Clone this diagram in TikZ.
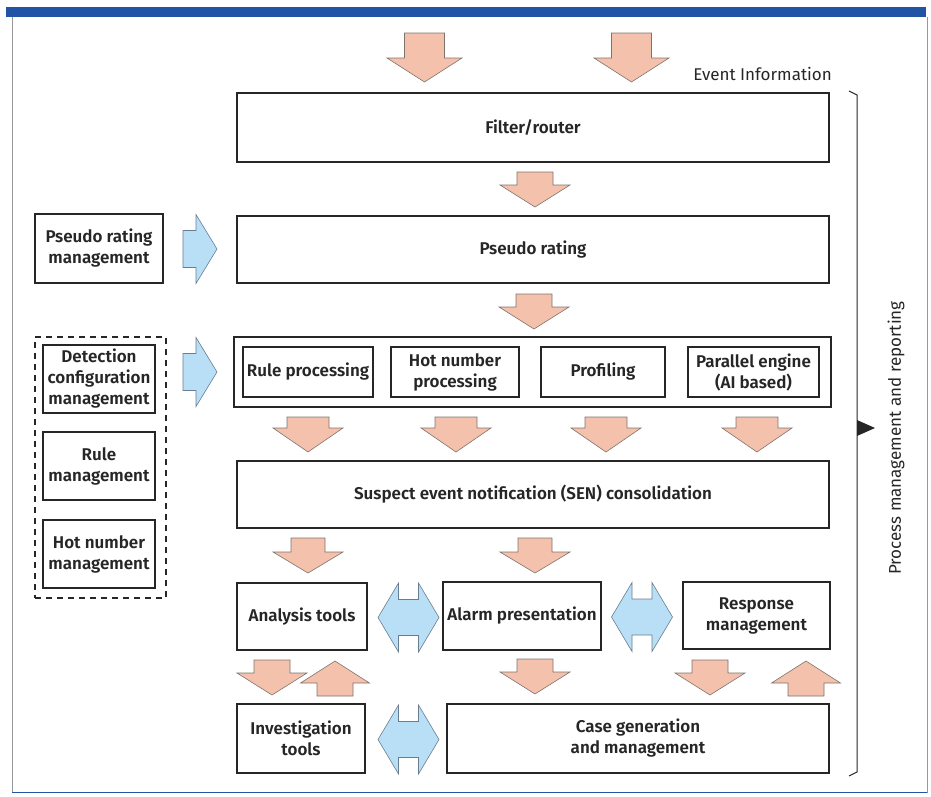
\documentclass[tikz,border=0pt]{standalone}
\usepackage{fontspec}
\setmainfont{Fira Sans}[BoldFont={Fira Sans SemiBold}]
\begin{document}
\begin{tikzpicture}[x=1pt,y=-1pt]
\definecolor{salmonfill}{RGB}{244,193,172}
\definecolor{salmonline}{RGB}{125,115,110}
\definecolor{bluefill}{RGB}{185,223,246}
\definecolor{blueline}{RGB}{105,125,145}
\definecolor{barblue}{RGB}{34,84,166}
\definecolor{framegray}{RGB}{150,150,155}
\tikzset{
  box/.style={draw=black!85, line width=1.3pt, fill=white, align=center, inner sep=0pt,
    font=\fontsize{17}{21}\selectfont\bfseries, text=black!85},
  salmonarrow/.style={fill=salmonfill, draw=salmonline, line width=0.6pt, line join=miter},
  bluearrow/.style={fill=bluefill, draw=blueline, line width=0.6pt, line join=miter},
  plain/.style={font=\fontsize{17}{20}\selectfont, text=black!85, inner sep=0pt},
  pics/dnarrow/.style args={#1/#2/#3/#4}{code={
    \draw[salmonarrow] (-#1,0) -- (#1,0) -- (#1,#3) -- (#2,#3) -- (0,#4) -- (-#2,#3) -- (-#1,#3) -- cycle;}},
  pics/uparrow/.style args={#1/#2/#3/#4}{code={
    \draw[salmonarrow] (-#1,0) -- (#1,0) -- (#1,-#3) -- (#2,-#3) -- (0,-#4) -- (-#2,-#3) -- (-#1,-#3) -- cycle;}},
  pics/rtarrow/.style={code={
    \draw[bluearrow] (0,-18.5) -- (13,-18.5) -- (13,-34.5) -- (34,0) -- (13,34.5) -- (13,18.5) -- (0,18.5) -- cycle;}},
  pics/dblarrow/.style={code={
    \draw[bluearrow] (-30.5,0) -- (-10,-34.5) -- (-10,-18) -- (10,-18) -- (10,-34.5) -- (30.5,0)
      -- (10,34.5) -- (10,18) -- (-10,18) -- (-10,34.5) -- cycle;}}
}
\useasboundingbox (0,0) rectangle (931,796);
% frame
\draw[framegray, line width=0.8pt] (12,17) -- (12,792) -- (927,792) -- (927,17);
\draw[barblue, line width=0.8pt] (12,792) -- (927,792);
\fill[barblue] (6,7) rectangle (926,17);

% top arrows
\pic at (424.5,33) {dnarrow={20/37.5/25/49}};
\pic at (631.5,33) {dnarrow={20/37.5/25/49}};
\node[plain, anchor=east] (evt) at (832,74) {Event Information};

% main boxes
\node[box, minimum width=592, minimum height=69] (filter) at (533,127.5) {Filter/router};
\pic at (535,172) {dnarrow={18/35/13/35}};
\node[box, minimum width=592, minimum height=67] (pseudo) at (533,249.5) {Pseudo rating};
\pic at (534,294) {dnarrow={18/35/13/35}};

\node[box, minimum width=597, minimum height=70] (detect) at (532.5,372) {};
\node[box, minimum width=130, minimum height=50] (rulep) at (308,372) {Rule processing};
\node[box, minimum width=128, minimum height=50] (hotp) at (455,372) {Hot number\\processing};
\node[box, minimum width=124, minimum height=50] (prof) at (603,372) {Profiling};
\node[box, minimum width=131, minimum height=50] (para) at (753.5,372) {Parallel engine\\(AI based)};

\pic at (308,417) {dnarrow={21/35/11/35}};
\pic at (456,417) {dnarrow={21/35/11/35}};
\pic at (606,417) {dnarrow={21/35/11/35}};
\pic at (757,417) {dnarrow={21/35/11/35}};

\node[box, minimum width=592, minimum height=67] (sen) at (533,494.5) {Suspect event notification (SEN) consolidation};

\pic at (308,538) {dnarrow={17/35/14/35}};
\pic at (535,538) {dnarrow={17/35/14/35}};

\node[box, minimum width=130, minimum height=67] (analysis) at (302,616.5) {Analysis tools};
\node[box, minimum width=158, minimum height=68] (alarm) at (522,616) {Alarm presentation};
\node[box, minimum width=147, minimum height=67] (response) at (756.5,615.5) {Response\\management};
\pic at (408.5,617.5) {dblarrow};
\pic at (642,617) {dblarrow};

\pic at (272,660) {dnarrow={18/35/13/35}};
\pic at (335,696) {uparrow={18/34.5/13/35}};
\pic at (535,659) {dnarrow={18/35/13/35}};
\pic at (710,660) {dnarrow={18/35/13/35}};
\pic at (806,696) {uparrow={18/34.5/13/35}};

\node[box, minimum width=128, minimum height=69] (invest) at (301,738.5) {Investigation\\tools};
\node[box, minimum width=382, minimum height=69] (casegen) at (638,738.5) {Case generation\\and management};
\pic at (408.5,739.5) {dblarrow};

% left side
\node[box, minimum width=128, minimum height=69] (prm) at (99,248.5) {Pseudo rating\\management};
\pic at (183,249) {rtarrow};
\node[draw=black!85, line width=1.3pt, dash pattern=on 6pt off 5pt, minimum width=131, minimum height=261, inner sep=0pt] (dashgrp) at (100.5,467.5) {};
\node[box, minimum width=112, minimum height=68] (dcm) at (99,379) {Detection\\configuration\\management};
\node[box, minimum width=112, minimum height=68] (rm) at (99,466) {Rule\\management};
\node[box, minimum width=112, minimum height=68] (hnm) at (99,554) {Hot number\\management};
\pic at (183,372) {rtarrow};

% brace on the right
\coordinate (bt) at (849,91);
\coordinate (bb) at (849,776);
\draw[black!85, line width=1pt] (bt) -- (857,95) -- (857,772) -- (bb);
\fill[black!85] (857,420) -- (875,428) -- (857,436) -- cycle;
\node[plain, rotate=90] (pmr) at (896,438) {Process management and reporting};
\end{tikzpicture}
\end{document}
